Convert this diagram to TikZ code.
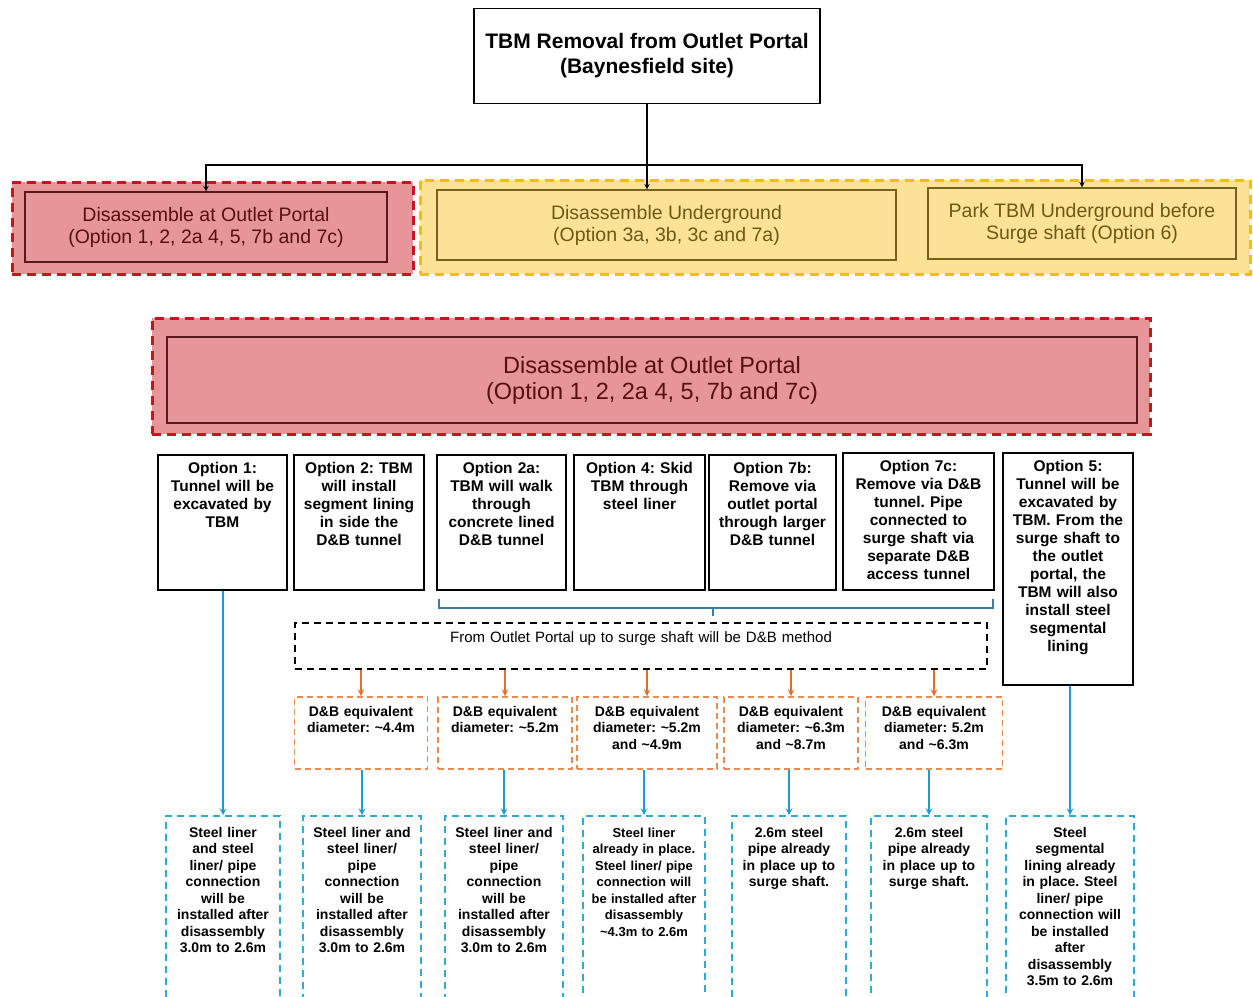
\documentclass[tikz,border=0pt]{standalone}
\usepackage{fontspec}
\setmainfont{Liberation Sans}
\usepackage{tikz}
\usetikzlibrary{arrows}
\frenchspacing
\definecolor{outletRed}{RGB}{230,150,152}
\definecolor{outletDash}{RGB}{200,20,30}
\definecolor{outletLine}{RGB}{90,25,25}
\definecolor{outletText}{RGB}{90,15,15}
\definecolor{uGold}{RGB}{252,226,150}
\definecolor{uDash}{RGB}{242,192,0}
\definecolor{uLine}{RGB}{120,95,35}
\definecolor{uText}{RGB}{110,88,20}
\definecolor{braceBlue}{RGB}{60,125,165}
\definecolor{arrowBlue}{RGB}{30,155,210}
\definecolor{linerBlue}{RGB}{45,170,215}
\definecolor{dbOrange}{RGB}{232,140,80}
\definecolor{arrowOrange}{RGB}{225,110,45}
\tikzstyle{titleNode} = [rectangle, draw=black, line width=1.5pt, minimum width=346pt, minimum height=95pt, align=center, font=\fontsize{21}{25}\selectfont\bfseries]
\tikzstyle{redGroup} = [rectangle, draw=outletDash, fill=outletRed, line width=3pt, dash pattern=on 9pt off 6pt]
\tikzstyle{redInner} = [rectangle, draw=outletLine, line width=1.2pt, text=outletText, align=center, inner sep=0pt]
\tikzstyle{goldGroup} = [rectangle, draw=uDash, fill=uGold, line width=3pt, dash pattern=on 9pt off 6pt]
\tikzstyle{goldInner} = [rectangle, draw=uLine, line width=1.2pt, text=uText, align=center, inner sep=0pt, font=\fontsize{19.5}{22}\selectfont]
\tikzstyle{optionNode} = [rectangle, draw=black, line width=1.6pt, align=center, inner xsep=2pt, inner ysep=5pt, text height=13pt, font=\fontsize{15.5}{18}\selectfont\bfseries]
\tikzstyle{methodNode} = [rectangle, draw=black, line width=1.5pt, dash pattern=on 7pt off 5pt, align=center, inner xsep=4pt, inner ysep=4pt, text height=15pt, text depth=23pt, font=\fontsize{15}{18}\selectfont]
\tikzstyle{dbNode} = [rectangle, draw=dbOrange, line width=1.6pt, dash pattern=on 6pt off 4pt, align=center, inner xsep=2pt, inner ysep=4pt, text height=15pt, text depth=49pt, font=\fontsize{14}{16.5}\selectfont\bfseries]
\tikzstyle{linerNode} = [rectangle, draw=linerBlue, line width=1.6pt, dash pattern=on 7pt off 5pt, align=center, inner xsep=2pt, inner ysep=5pt, text height=16pt, text depth=160pt, font=\fontsize{14}{16.5}\selectfont\bfseries]
\tikzstyle{treeArrow} = [line width=1.4pt, ->, >=stealth]
\tikzstyle{blueArrow} = [line width=2pt, draw=arrowBlue, ->, >=stealth]
\tikzstyle{orangeArrow} = [line width=2pt, draw=arrowOrange, ->, >=stealth]
\tikzstyle{bracket} = [line width=1.6pt, draw=braceBlue]

\begin{document}
\begin{tikzpicture}[x=1pt, y=-1pt]
    \useasboundingbox (0,0) rectangle (1253,996);
    \clip (0,0) rectangle (1253,996);
    \node (title) [titleNode] at (647,56) {TBM Removal from Outlet Portal\\(Baynesfield site)};
    % first split
    \node (outletGroup) [redGroup, minimum width=401pt, minimum height=92pt] at (212.5,228) {};
    \node (outletInner) [redInner, minimum width=362pt, minimum height=70pt, font=\fontsize{19.5}{22}\selectfont] at (206,227) {Disassemble at Outlet Portal\\(Option 1, 2, 2a 4, 5, 7b and 7c)};
    \node (undergroundGroup) [goldGroup, minimum width=830pt, minimum height=94pt] at (835,227) {};
    \node (uInner) [goldInner, minimum width=459pt, minimum height=70pt] at (666.5,225) {Disassemble Underground\\(Option 3a, 3b, 3c and 7a)};
    \node (parkInner) [goldInner, minimum width=308pt, minimum height=71pt] at (1082,223.5) {Park TBM Underground before\\Surge shaft (Option 6)};
    \coordinate (split) at (647,165);
    % outlet portal options
    \node (outletBig) [redGroup, minimum width=998pt, minimum height=116pt] at (651,376) {};
    \node (outletBigInner) [redInner, minimum width=970pt, minimum height=86pt, font=\fontsize{23.5}{26}\selectfont] at (652,380) {Disassemble at Outlet Portal\\(Option 1, 2, 2a 4, 5, 7b and 7c)};
    \node (opt1) [optionNode, text width=125pt, text depth=112pt] at (222.5,522.5) {Option 1:\\Tunnel will be\\excavated by\\TBM};
    \node (opt2) [optionNode, text width=126pt, text depth=112pt] at (359,522.5) {Option 2: TBM\\will install\\segment lining\\in side the\\D\&B tunnel};
    \node (opt2a) [optionNode, text width=125pt, text depth=112pt] at (501.5,522.5) {Option 2a:\\TBM will walk\\through\\concrete lined\\D\&B tunnel};
    \node (opt4) [optionNode, text width=127pt, text depth=112pt] at (639.5,522.5) {Option 4: Skid\\TBM through\\steel liner};
    \node (opt7b) [optionNode, text width=123pt, text depth=112pt] at (772.5,522.5) {Option 7b:\\Remove via\\outlet portal\\through larger\\D\&B tunnel};
    \node (opt7c) [optionNode, text width=147pt, text depth=114pt] at (918.5,521.5) {Option 7c:\\Remove via D\&B\\tunnel. Pipe\\connected to\\surge shaft via\\separate D\&B\\access tunnel};
    \node (opt5) [optionNode, text width=126pt, text depth=209pt] at (1068,569) {Option 5:\\Tunnel will be\\excavated by\\TBM. From the\\surge shaft to\\the outlet\\portal, the\\TBM will also\\install steel\\segmental\\lining};
    % D&B part
    \coordinate (braceMid) at (713,607);
    \node (method) [methodNode, text width=684pt] at (641,646) {From Outlet Portal up to surge shaft will be D\&B method};
    \node (dbA) [dbNode, text width=129pt] at (361,733) {D\&B equivalent\\diameter: \textasciitilde4.4m};
    \node (dbB) [dbNode, text width=130pt] at (505,733) {D\&B equivalent\\diameter: \textasciitilde5.2m};
    \node (dbC) [dbNode, text width=136pt] at (647,733) {D\&B equivalent\\diameter: \textasciitilde5.2m\\and \textasciitilde4.9m};
    \node (dbD) [dbNode, text width=130pt] at (791,733) {D\&B equivalent\\diameter: \textasciitilde6.3m\\and \textasciitilde8.7m};
    \node (dbE) [dbNode, text width=133pt] at (934,733) {D\&B equivalent\\diameter: 5.2m\\and \textasciitilde6.3m};
    % steel liners
    \node (liner1) [linerNode, text width=110pt] at (223,909) {Steel liner\\and steel\\liner/ pipe\\connection\\will be\\installed after\\disassembly\\3.0m to 2.6m};
    \node (liner2) [linerNode, text width=114pt] at (362,909) {Steel liner and\\steel liner/\\pipe\\connection\\will be\\installed after\\disassembly\\3.0m to 2.6m};
    \node (liner3) [linerNode, text width=114pt] at (504,909) {Steel liner and\\steel liner/\\pipe\\connection\\will be\\installed after\\disassembly\\3.0m to 2.6m};
    \node (liner4) [linerNode, text width=118pt, font=\fontsize{13}{16.5}\selectfont\bfseries] at (644,909) {Steel liner\\already in place.\\Steel liner/ pipe\\connection will\\be installed after\\disassembly\\\textasciitilde4.3m to 2.6m};
    \node (liner5) [linerNode, text width=110pt] at (789,909) {2.6m steel\\pipe already\\in place up to\\surge shaft.};
    \node (liner6) [linerNode, text width=112pt] at (929,909) {2.6m steel\\pipe already\\in place up to\\surge shaft.};
    \node (liner7) [linerNode, text width=124pt] at (1070,909) {Steel\\segmental\\lining already\\in place. Steel\\liner/ pipe\\connection will\\be installed\\after\\disassembly\\3.5m to 2.6m};

    \draw [treeArrow] (title.south) -- (title.south |- uInner.north);
    \draw [treeArrow] (split) -| (outletInner.north);
    \draw [treeArrow] (split) -| (parkInner.north);
    % bracket under options 2a to 7c
    \draw [bracket] ([xshift=3pt,yshift=-8pt]opt2a.south west) -- ++(0,9) -| ([xshift=-2pt,yshift=-8pt]opt7c.south east);
    \draw [bracket] (braceMid) -- ++(0,9);
    %
    \foreach \db in {dbA,dbB,dbC,dbD,dbE}
        \draw [orangeArrow] (method.south -| \db.north) -- (\db.north);
    %
    \foreach \src/\dst in {opt1/liner1, dbA/liner2, dbB/liner3, dbC/liner4, dbD/liner5, dbE/liner6, opt5/liner7}
        \draw [blueArrow] (\src.south -| \dst.north) -- (\dst.north);

\end{tikzpicture}
\end{document}
